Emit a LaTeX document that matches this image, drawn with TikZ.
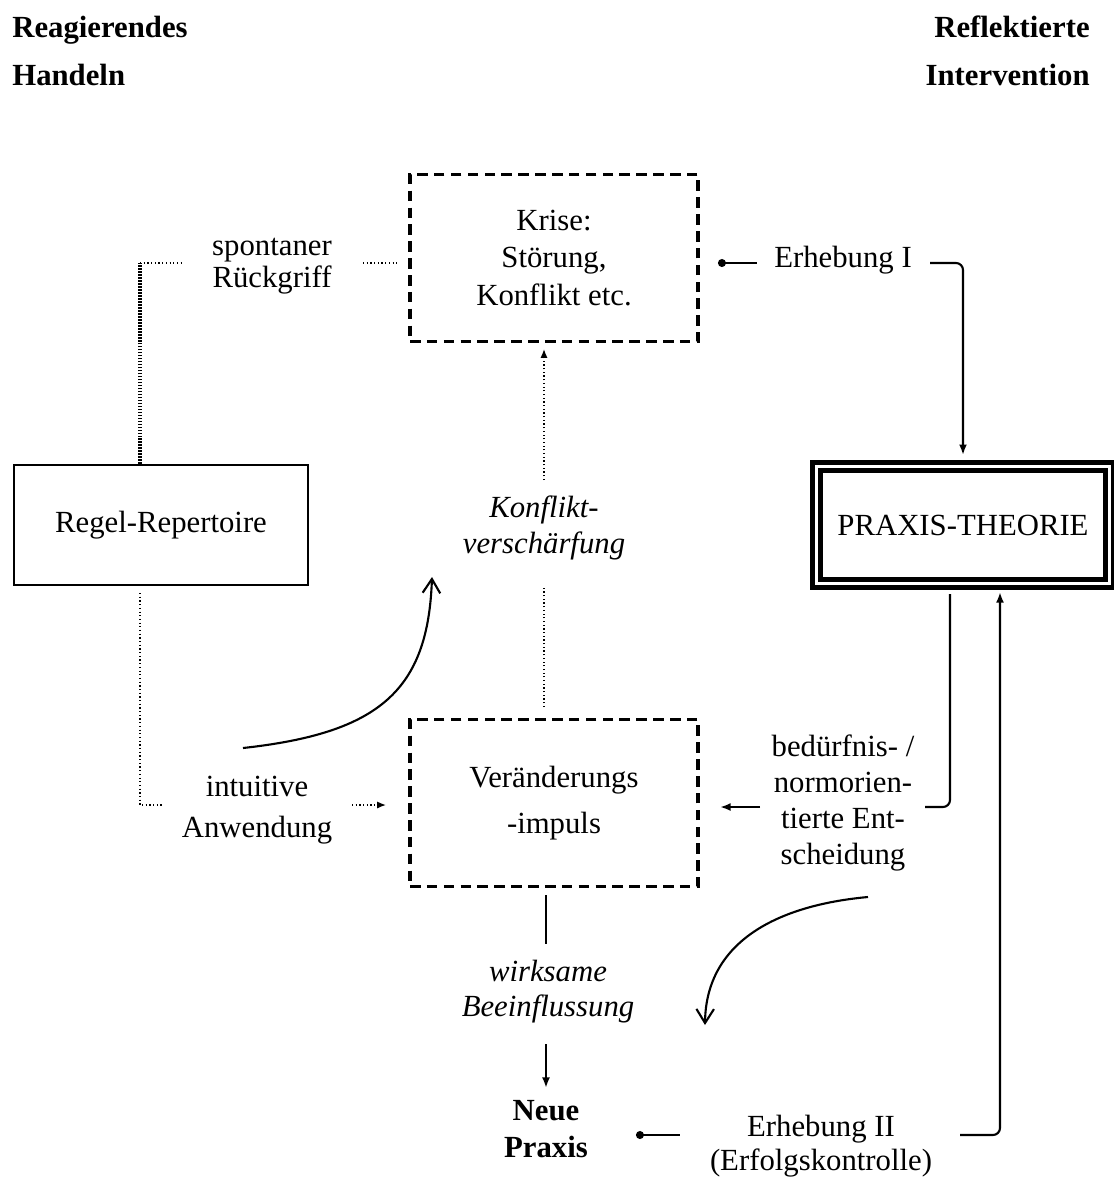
\documentclass[tikz,border=0pt]{standalone}
\usepackage{fontspec}
\setmainfont{Liberation Serif}
\usetikzlibrary{arrows.meta}

\begin{document}
\begin{tikzpicture}[x=0.02cm,y=-0.02cm,
    lbl/.style={font=\fontsize{17.5}{#1}\selectfont, align=center, inner sep=0pt},
    dashbox/.style={draw, line width=1.9pt, dash pattern=on 6pt off 3.6pt,
      minimum width=5.76cm, minimum height=3.34cm, inner sep=0pt},
    heavydot/.style={line width=1.8pt, dash pattern=on 0.9pt off 0.8pt},
    finedot/.style={line width=0.8pt, dash pattern=on 0.7pt off 1.4pt},
    conn/.style={line width=1.2pt},
    tip/.style={-{Latex[length=6pt,width=4.5pt]}},
    barb/.style={-{Straight Barb[length=8pt,width=10pt]}},
    dot/.style={{Circle[length=4.5pt]}-}]
  \useasboundingbox (0,0) rectangle (1114,1178);

  % headings
  \node[lbl=27.5, anchor=west, align=left, font=\fontsize{17.5}{27.5}\selectfont\bfseries]
    (links) at (12,51) {Reagierendes\\Handeln};
  \node[lbl=27.5, anchor=east, align=right, font=\fontsize{17.5}{27.5}\selectfont\bfseries]
    (rechts) at (1090,51) {Reflektierte\\Intervention};

  % boxes
  \node[dashbox, lbl=21.5] (krise) at (554,258) {Krise:\\Störung,\\Konflikt etc.};
  \node[dashbox, lbl=26.5] (impuls) at (554,803) {Veränderungs\\-impuls};
  \node[draw, line width=1.2pt, minimum width=5.88cm, minimum height=2.4cm, lbl=20]
    (regel) at (161,525) {Regel-Repertoire};
  \node[draw, line width=2.8pt, double, double distance=1.3pt,
    minimum width=5.86cm, minimum height=2.34cm, lbl=20]
    (praxis) at (963,525) {PRAXIS-THEORIE};

  % labels
  \node[lbl=18] (spont) at (272,266) {spontaner\\Rückgriff};
  \node[lbl=23] (intu) at (257,810) {intuitive\\Anwendung};
  \node[lbl=20, font=\fontsize{17.5}{20}\selectfont\itshape] (konf) at (544,528) {Konflikt-\\verschärfung};
  \node[lbl=20, font=\fontsize{17.5}{20}\selectfont\itshape] (wirk) at (548,992) {wirksame\\Beeinflussung};
  \node[lbl=20] (erh1) at (843,260) {Erhebung I};
  \node[lbl=20.4] (bed) at (843,803) {bedürfnis- /\\normorien-\\tierte Ent-\\scheidung};
  \node[lbl=21.5, font=\fontsize{17.5}{21.5}\selectfont\bfseries] (neue) at (546,1129) {Neue\\Praxis};
  \node[lbl=19.3] (erh2) at (821,1146) {Erhebung II\\(Erfolgskontrolle)};

  % left side: dotted paths
  \coordinate (c1) at (140,263);
  \coordinate (sp1) at (182,263);
  \coordinate (sp2) at (363,263);
  \coordinate (sp3) at (398,263);
  \draw[heavydot] (regel.north -| c1) -- (c1);
  \draw[finedot] (c1) -- (sp1);
  \draw[finedot] (sp2) -- (sp3);

  \coordinate (c2) at (140,805);
  \coordinate (ia1) at (163,805);
  \coordinate (ia2) at (352,805);
  \coordinate (ia3) at (386,805);
  \draw[finedot] ([yshift=-0.14cm]regel.south -| c2) -- (c2) -- (ia1);
  \draw[finedot, -{Latex[length=5pt,width=4pt]}] (ia2) -- (ia3);

  \coordinate (cv0) at (243,748);
  \coordinate (cv1) at (432,577);
  \draw[conn, barb] (cv0) .. controls (380,733) and (428,690) .. (cv1);

  % middle
  \coordinate (k1) at (544,707);
  \coordinate (k2) at (544,588);
  \coordinate (k3) at (544,480);
  \coordinate (k4) at (544,349);
  \draw[finedot] (k1) -- (k2);
  \draw[finedot, -{Latex[length=5pt,width=4pt]}] (k3) -- (k4);

  \coordinate (w1) at (546,895);
  \coordinate (w2) at (546,944);
  \coordinate (w3) at (546,1044);
  \coordinate (w4) at (546,1088);
  \draw[conn] (w1) -- (w2);
  \draw[conn, tip] (w3) -- (w4);

  % right side
  \coordinate (e1a) at (718,263);
  \coordinate (e1b) at (757,263);
  \coordinate (e1c) at (930,263);
  \coordinate (e1d) at (963,263);
  \draw[conn, dot] (e1a) -- (e1b);
  \draw[conn, tip, rounded corners=4pt] (e1c) -- (e1d) -- ([yshift=0.18cm]praxis.north);

  \coordinate (b0) at (950,594);
  \coordinate (b1) at (950,807);
  \coordinate (b2) at (925,807);
  \coordinate (b3) at (760,807);
  \coordinate (b4) at (720,807);
  \draw[conn, rounded corners=4pt] (b0) -- (b1) -- (b2);
  \draw[conn, tip] (b3) -- (b4);

  \coordinate (cv2) at (868,897);
  \coordinate (cv3) at (705,1025);
  \draw[conn, barb] (cv2) .. controls (780,905) and (706,940) .. (cv3);

  \coordinate (e2a) at (636,1135);
  \coordinate (e2b) at (680,1135);
  \coordinate (e2c) at (960,1135);
  \coordinate (e2d) at (1000,1135);
  \coordinate (e2e) at (1000,592);
  \draw[conn, dot] (e2a) -- (e2b);
  \draw[conn, tip, rounded corners=4pt] (e2c) -- (e2d) -- (e2e);
\end{tikzpicture}
\end{document}
